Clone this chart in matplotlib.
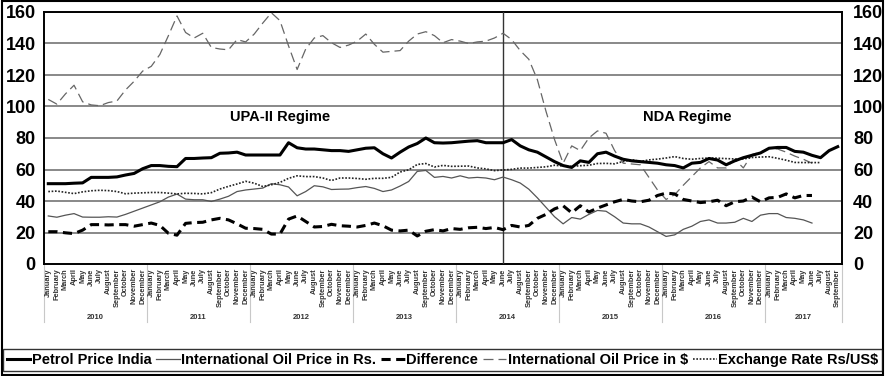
import matplotlib
matplotlib.use("Agg")
import matplotlib.pyplot as plt
import matplotlib.transforms as mtransforms
from matplotlib.patches import Rectangle
import numpy as np

plt.rcParams['font.family'] = ['Liberation Sans', 'DejaVu Sans']

months = ["January", "February", "March", "April", "May", "June", "July",
          "August", "September", "October", "November", "December"]
years = ["2010", "2011", "2012", "2013", "2014", "2015", "2016", "2017"]
month_labels = months * 7 + months[:9]

petrol = [51, 51, 51, 51.3, 51.5, 55, 55, 55, 55.3, 56.5, 57.5, 60.5,
          62.5, 62.5, 62, 61.8, 67, 67, 67.3, 67.5, 70.3, 70.5, 71, 69.2,
          69.2, 69.2, 69.2, 69.2, 77, 73.8, 73, 73, 72.5, 72, 72, 71.5,
          72.5, 73.5, 73.8, 70, 67.3, 71, 74.3, 76.5, 80, 77, 76.8, 77,
          77.5, 78, 78.3, 77, 77, 77, 79, 75, 72.5, 71, 68, 65,
          62.5, 61.3, 65.5, 64.5, 70, 71, 68.5, 66.5, 65.5, 65, 64.5, 64,
          63, 62.5, 61, 64, 64.5, 67, 66, 63, 65.5, 67.5, 69, 70.5,
          73.5, 74, 74, 71.5, 71, 69, 67.5, 72, 74.5]

oil_rs = [30.5, 29.7, 31, 32, 29.8, 29.7, 29.7, 30, 29.8, 31.5, 33.5, 35.5,
          37.5, 39.5, 42.5, 44.4, 41.2, 40.8, 40.8, 39.7, 41.2, 43, 46, 47,
          47.6, 48.2, 51, 50.3, 48.9, 43.3, 46, 49.7, 49, 47.3, 47.5, 47.6,
          48.5, 49.2, 48, 46, 47, 49.5, 52.4, 58.8, 59.4, 55, 55.6, 54.6,
          56, 54.6, 55, 54.6, 53.5, 55.2, 53.5, 51.4, 47.5, 42, 36, 30,
          25.5, 29.5, 28.5, 31.5, 34, 33.5, 30, 26, 25.5, 25.5, 23.5, 20.5,
          17.5, 18.5, 22, 24, 27, 28, 26, 26, 26.5, 29, 27, 31,
          32, 32, 29.5, 29, 28, 26]

difference = [20.5, 20.5, 19.8, 19.3, 21.5, 25, 25, 24.8, 25, 25, 24, 25,
              26, 24.5, 19.5, 18.3, 25.8, 26.3, 26.5, 28, 29, 28, 25.5, 22.7,
              22.5, 22, 19, 19, 28.5, 30.5, 27, 23.5, 23.8, 25.2, 24.3, 24,
              23.5, 24.5, 26, 24.3, 21.5, 21, 21.5, 17.8, 20.8, 21.8, 21, 22.5,
              22, 23, 23.3, 22.5, 23.2, 21.8, 24.5, 23.5, 24.5, 29, 31.5, 35,
              37, 32.5, 37, 33, 35.5, 37.5, 39.5, 41, 40, 39.5, 40.5, 43.5,
              45, 44.5, 41, 40, 39, 39.5, 40.5, 37, 39.5, 40, 42.5, 39.5,
              42, 42.3, 44.5, 42, 43.5, 43.5]

oil_usd = [104.5, 101.5, 108, 113.5, 103, 101, 100.5, 102.5, 103.5, 110.5, 116, 122.5,
           125.5, 133, 145, 157.5, 147, 143.5, 146.5, 137.5, 136.5, 136, 142.5, 141,
           146, 153, 159.5, 154.5, 138.5, 123.5, 136.5, 143.5, 145, 140.5, 137.5, 139,
           141.5, 146, 139.5, 134.5, 135, 135.5, 141.5, 146, 147.5, 145, 140.5, 142.5,
           141.5, 140, 141, 141.5, 143.5, 146.5, 142.5, 135.5, 130, 117, 97, 79,
           64, 75, 72, 80, 84.5, 83, 72, 64, 63.5, 63, 55, 47,
           41, 44, 50, 55.5, 61, 65, 61, 61, 66.5, 61, 69.5, 71,
           73.5, 73, 71, 68.5, 66.5, 64]

exchange = [46, 46.3, 45.5, 44.7, 45.8, 46.5, 46.8, 46.6, 46, 44.6, 45, 45.2,
            45.4, 45.4, 45, 44.5, 44.9, 44.8, 44.5, 45.3, 47.6, 49.3, 50.8, 52.5,
            51.3, 49.2, 50.3, 51.8, 54.4, 56, 55.5, 55.5, 54.6, 53, 54.6, 54.6,
            54.3, 53.8, 54.4, 54.4, 55, 58.4, 59.8, 63.2, 63.8, 61.6, 62.6, 62,
            62.1, 62.2, 61, 60.4, 59.3, 59.7, 60.1, 60.9, 60.9, 61.3, 61.7, 62.7,
            62.2, 62, 62.4, 62.7, 63.8, 63.9, 63.6, 65.1, 66.2, 65.1, 66.1, 66.6,
            67.3, 68.2, 67, 66.5, 67, 67.3, 67.2, 66.9, 66.7, 66.7, 67.6, 67.9,
            68.1, 67.1, 65.9, 64.5, 64.4, 64.4, 64.4]

regime_split = 53  # June 2014

W, H = 885, 376
fig = plt.figure(figsize=(W / 100, H / 100), dpi=100)
ax = fig.add_axes([44 / W, 1 - 264 / H, (842 - 44) / W, (264 - 12) / H])

x_all = np.arange(len(month_labels))
grid_col = '#7f7f7f'
for v in range(20, 161, 20):
    ax.axhline(v, color=grid_col, lw=1.3, zorder=1)

l1, = ax.plot(np.arange(len(petrol)), petrol, color='black', lw=2.2,
              solid_joinstyle='round', zorder=5, label='Petrol Price India')
l2, = ax.plot(np.arange(len(oil_rs)), oil_rs, color='#555555', lw=0.9,
              zorder=4, label='International Oil Price in Rs.')
l3, = ax.plot(np.arange(len(difference)), difference, color='black', lw=2.2,
              dashes=(3, 1.8), zorder=5, label='Difference')
l4, = ax.plot(np.arange(len(oil_usd)), oil_usd, color='#666666', lw=0.9,
              dashes=(8, 4), zorder=4, label='International Oil Price in $')
l5, = ax.plot(np.arange(len(exchange)), exchange, color='#222222', lw=1.2,
              dashes=(1, 1), zorder=4, label='Exchange Rate Rs/US$')

ax.axvline(regime_split, color='#333333', lw=1.0, zorder=3)

ax.text(27, 93.5, 'UPA-II Regime', fontsize=10.5, fontweight='bold',
        ha='center', va='center', zorder=6)
ax.text(74.5, 93.5, 'NDA Regime', fontsize=10.5, fontweight='bold',
        ha='center', va='center', zorder=6)

ax.set_xlim(-0.5, len(month_labels) - 0.5)
ax.set_ylim(0, 160)
ax.set_yticks(range(0, 161, 20))
ax.tick_params(axis='y', length=0, pad=6, labelsize=13)
for t in ax.get_yticklabels():
    t.set_fontweight('bold')

ax.set_xticks(x_all)
ax.set_xticklabels(month_labels, rotation=90, fontsize=5.3, fontweight='bold',
                   color='#333333')
ax.tick_params(axis='x', length=0, pad=3)

for s in ax.spines.values():
    s.set_color('black')
    s.set_linewidth(1.4)

ax2 = ax.twinx()
ax2.set_ylim(0, 160)
ax2.set_yticks(range(0, 161, 20))
ax2.tick_params(axis='y', length=0, pad=8, labelsize=13)
for t in ax2.get_yticklabels():
    t.set_fontweight('bold')
for s in ax2.spines.values():
    s.set_visible(False)

# year separators and labels
trans = mtransforms.blended_transform_factory(ax.transData, ax.transAxes)
n = len(month_labels)
bounds = [-0.5] + [12 * k - 0.5 for k in range(1, 8)] + [n - 0.5]
for b in bounds:
    ax.plot([b, b], [0, -0.23], transform=trans, color='#c8c8c8', lw=0.8,
            clip_on=False, zorder=0)
for k, yr in enumerate(years):
    start = 12 * k
    end = min(12 * k + 11, n - 1)
    ax.text((start + end) / 2, -0.212, yr, transform=trans, fontsize=5.5,
            fontweight='bold', color='#333333', ha='center', va='center')

leg = fig.legend(handles=[l1, l2, l3, l4, l5], loc='center',
                 bbox_to_anchor=(0.5, 1 - 360 / H), ncol=5, frameon=True,
                 fancybox=False, edgecolor='black',
                 handlelength=1.6, handletextpad=0.1, columnspacing=0.35,
                 borderpad=0.25, borderaxespad=0,
                 prop={'weight': 'bold', 'size': 10.5})
leg.get_frame().set_linewidth(1.0)

fig.patches.append(Rectangle((0.002, 0.003), 0.996, 0.994, transform=fig.transFigure,
                             fill=False, edgecolor='black', lw=1.5))

fig.savefig('out.png', dpi=100, facecolor='white')
